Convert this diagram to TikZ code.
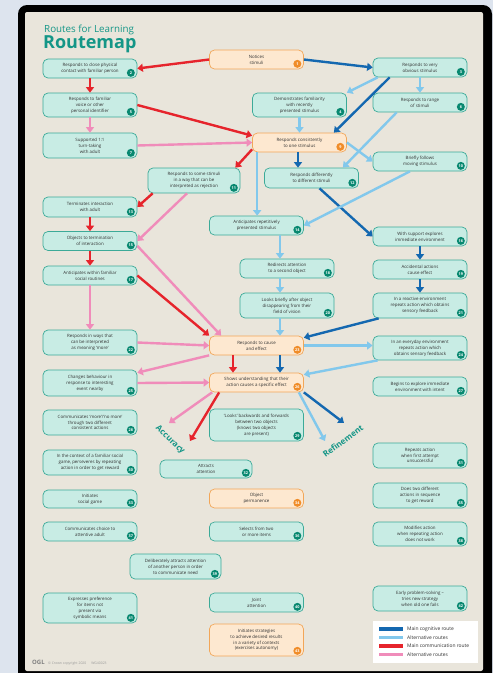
\documentclass[tikz,border=0pt]{standalone}
\usepackage{fontspec}
\setmainfont{Open Sans}
\usetikzlibrary{arrows.meta,positioning,calc}
\definecolor{bgblue}{RGB}{221,228,238}
\definecolor{paper}{RGB}{233,229,219}
\definecolor{rfteal}{RGB}{20,150,135}
\definecolor{boxfill}{RGB}{200,236,228}
\definecolor{boxline}{RGB}{60,170,152}
\definecolor{badgeteal}{RGB}{8,136,112}
\definecolor{ofill}{RGB}{253,232,208}
\definecolor{oline}{RGB}{242,166,88}
\definecolor{obadge}{RGB}{240,140,40}
\definecolor{cogblue}{RGB}{20,104,176}
\definecolor{coglight}{RGB}{130,200,236}
\definecolor{comred}{RGB}{230,36,44}
\definecolor{compink}{RGB}{240,140,186}
\definecolor{txtgrey}{RGB}{50,50,50}

\begin{document}
\begin{tikzpicture}[x=1pt, y=-1pt,
  box/.style={draw=boxline, fill=boxfill, rounded corners=5pt, line width=0.7pt,
    align=center, inner sep=1pt, minimum width=94pt, text=txtgrey,
    font=\fontsize{4.4}{5.9}\selectfont},
  obox/.style={box, draw=oline, fill=ofill},
  badge/.style={circle, fill=badgeteal, text=white, inner sep=0pt, minimum size=8pt,
    font=\bfseries\fontsize{3.8}{4}\selectfont},
  obadge/.style={badge, fill=obadge},
  arr/.style={-{Triangle[length=5.5pt,width=8pt]}, line width=2.4pt},
  cogmain/.style={arr, draw=cogblue},
  cogalt/.style={arr, draw=coglight},
  commain/.style={arr, draw=comred},
  comalt/.style={arr, draw=compink},
  route/.style={text=rfteal, inner sep=0pt, font=\bfseries\fontsize{8.2}{9}\selectfont},
  legtext/.style={anchor=west, inner sep=0pt, text=txtgrey, font=\fontsize{4.9}{5}\selectfont}]

    % =========================================================================
    % FRAME
    % =========================================================================
    \useasboundingbox (0,0) rectangle (493,673);
    \clip (0,0) rectangle (493,673);
    \fill[bgblue] (0,0) rectangle (493,673);
    \fill[black, rounded corners=9pt] (18,5) rectangle (492,690);
    \fill[paper, rounded corners=2pt] (25,12) rectangle (483,671);

    % Title
    \node[anchor=base west, inner sep=0pt, text=rfteal, font=\fontsize{9.8}{10}\selectfont] (ttl) at (44,32) {Routes for Learning};
    \node[anchor=base west, inner sep=0pt, text=rfteal, font=\bfseries\fontsize{18}{18}\selectfont] (ttlbig) at (43,48.5) {Routemap};

    % =========================================================================
    % MILESTONES
    % =========================================================================
    \node[obox, minimum height=19pt] (n1) at (256.5,59.5) {Notices\\stimuli};
    \node[box, minimum height=19pt] (n2) at (90,68.5) {Responds to close physical\\contact with familiar person};
    \node[box, minimum height=19pt] (n3) at (420,67.5) {Responds to very\\obvious stimulus};
    \node[box, minimum height=24pt] (n4) at (299.5,105) {Demonstrates familiarity\\with recently\\presented stimulus};
    \node[box, minimum height=24pt] (n5) at (90,105) {Responds to familiar\\voice or other\\personal identifier};
    \node[box, minimum height=19pt] (n6) at (420,102.5) {Responds to range\\of stimuli};
    \node[box, minimum height=25pt] (n7) at (90,145.5) {Supported 1:1\\turn-taking\\with adult};
    \node[obox, minimum height=19pt] (n9) at (299.5,142.5) {Responds consistently\\to one stimulus};
    \node[box, minimum height=19pt] (n10) at (420,161.5) {Briefly follows\\moving stimulus};
    \node[box, minimum height=25pt, minimum width=92pt] (n11) at (194,180.5) {Responds to some stimuli\\in a way that can be\\interpreted as rejection};
    \node[box, minimum height=20pt] (n12) at (311.5,178) {Responds differently\\to different stimuli};
    \node[box, minimum height=20pt] (n13) at (90,207) {Terminates interaction\\with adult};
    \node[box, minimum height=19pt] (n14) at (256.5,225.5) {Anticipates repetitively\\presented stimulus};
    \node[box, minimum height=19pt] (n15) at (90,241) {Objects to termination\\of interaction};
    \node[box, minimum height=19pt] (n16) at (420,236.5) {With support explores\\immediate environment};
    \node[box, minimum height=19pt] (n17) at (90,275.5) {Anticipates within familiar\\social routines};
    \node[box, minimum height=19pt] (n18) at (287,268.5) {Redirects attention\\to a second object};
    \node[box, minimum height=19pt] (n19) at (420,269.5) {Accidental actions\\cause effect};
    \node[box, minimum height=25pt] (n20) at (287,305.5) {Looks briefly after object\\disappearing from their\\field of vision};
    \node[box, minimum height=25pt] (n21) at (420,305.5) {In a reactive environment\\repeats action which obtains\\sensory feedback};
    \node[box, minimum height=25pt] (n22) at (90,342.5) {Responds in ways that\\can be interpreted\\as meaning `more'};
    \node[obox, minimum height=19pt] (n23) at (256.5,345.5) {Responds to cause\\and effect};
    \node[box, minimum height=24pt] (n24) at (420,348) {In an everyday environment\\repeats action which\\obtains sensory feedback};
    \node[box, minimum height=26pt] (n25) at (90,383) {Changes behaviour in\\response to interesting\\event nearby};
    \node[obox, minimum height=19pt] (n26) at (256.5,382.5) {Shows understanding that their\\action causes a specific effect};
    \node[box, minimum height=19pt] (n27) at (420,386.5) {Begins to explore immediate\\environment with intent};
    \node[box, minimum height=25pt] (n28) at (90,422.5) {Communicates `more'/`no more'\\through two different\\consistent actions};
    \node[box, minimum height=32pt] (n29) at (256.5,425) {`Looks' backwards and forwards\\between two objects\\(knows two objects\\are present)};
    \node[box, minimum height=25pt] (n30) at (90,462.5) {In the context of a familiar social\\game, perseveres by repeating\\action in order to get reward};
    \node[box, minimum height=25pt] (n31) at (420,455.5) {Repeats action\\when first attempt\\unsuccessful};
    \node[box, minimum height=18pt, minimum width=92pt] (n32) at (206,469) {Attracts\\attention};
    \node[box, minimum height=18pt] (n33) at (90,499) {Initiates\\social game};
    \node[obox, minimum height=19pt] (n34) at (256.5,498.5) {Object\\permanence};
    \node[box, minimum height=25pt] (n35) at (420,495.5) {Does two different\\actions in sequence\\to get reward};
    \node[box, minimum height=19pt] (n36) at (256.5,531.5) {Selects from two\\or more items};
    \node[box, minimum height=19pt] (n37) at (90,531.5) {Communicates choice to\\attentive adult};
    \node[box, minimum height=24pt] (n38) at (420,534) {Modifies action\\when repeating action\\does not work};
    \node[box, minimum height=25pt, minimum width=91pt] (n39) at (175.5,566.5) {Deliberately attracts attention\\of another person in order\\to communicate need};
    \node[box, minimum height=19pt] (n40) at (256.5,602.5) {Joint\\attention};
    \node[box, minimum height=30pt] (n41) at (90,608) {Expresses preference\\for items not\\present via\\symbolic means};
    \node[box, minimum height=25pt] (n42) at (420,598.5) {Early problem-solving --\\tries new strategy\\when old one fails};
    \node[obox, minimum height=32pt] (n43) at (256.5,640) {Initiates strategies\\to achieve desired results\\in a variety of contexts\\(exercises autonomy)};

    % Number badges
    \foreach \n in {2,3,4,5,6,7,10,11,12,13,14,15,16,17,18,19,20,21,22,24,25,27,28,29,30,31,32,33,35,36,37,38,39,40,41,42}
        \node[badge] at ([shift={(-6.5pt,5.5pt)}]n\n.south east) {\n};
    \foreach \n in {1,9,23,26,34,43}
        \node[obadge] at ([shift={(-6.5pt,5.5pt)}]n\n.south east) {\n};

    % =========================================================================
    % MAIN COGNITIVE ROUTE
    % =========================================================================
    \coordinate (refdark) at (344,423);
    \draw[cogmain] (n1.east) -- (n3.west);
    \draw[cogmain] ([xshift=17pt]n3.south west) -- ([xshift=-13pt]n9.north east);
    \draw[cogmain] ([xshift=-1.5pt]n9.south) -- ([xshift=-1.5pt]n9.south |- n12.north);
    \draw[cogmain] ([xshift=8pt]n12.south) -- (n16.west);
    \draw[cogmain] (n16.south) -- (n19.north);
    \draw[cogmain] (n19.south) -- (n21.north);
    \draw[cogmain] ([xshift=6pt]n21.south west) -- ([yshift=-2pt]n23.north east);
    \draw[cogmain] ([xshift=23.5pt]n23.south) -- ([xshift=23.5pt]n26.north);
    \draw[cogmain] (n26.south east) -- (refdark);

    % =========================================================================
    % ALTERNATIVE COGNITIVE ROUTES
    % =========================================================================
    \coordinate (reflight) at (325,441);
    \draw[cogalt] ([xshift=5pt]n3.south west) -- (n4.north east);
    \draw[cogalt] (n3.south) -- (n6.north);
    \draw[cogalt] (n4.south) -- (n9.north);
    \draw[cogalt] ([xshift=24pt]n6.south west) -- ([xshift=-16pt]n12.north east);
    \draw[cogalt] (n9.east) -- (n10.west);
    \draw[cogalt] ([xshift=5pt]n9.south west) -- ([xshift=5pt]n9.south west |- n14.north);
    \draw[cogalt] ([xshift=-10pt]n10.south) -- (n14.east);
    \draw[cogalt] ([xshift=-7pt]n18.north |- n14.south) -- ([xshift=-7pt]n18.north);
    \draw[cogalt] ([xshift=-7pt]n18.south) -- ([xshift=-7pt]n20.north);
    \draw[cogalt] ([xshift=-7pt]n20.south) -- ([xshift=-7pt]n20.south |- n23.north);
    \draw[cogalt] (n23.east) -- (n24.west |- n23.east);
    \draw[cogalt] ([xshift=5pt]n24.south west) -- ([yshift=-2pt]n26.north east);
    \draw[cogalt] ([xshift=-5pt]n26.south east) -- (reflight);

    % =========================================================================
    % MAIN COMMUNICATION ROUTE
    % =========================================================================
    \coordinate (accred) at (190,441);
    \draw[commain] (n1.west) -- (n2.east);
    \draw[commain] (n2.south) -- (n5.north);
    \draw[commain] (n5.east) -- ([yshift=-3pt]n9.north west);
    \draw[commain] ([yshift=3pt]n9.south west) -- ([xshift=-5pt]n11.north east);
    \draw[commain] ([xshift=5pt]n11.south west) -- (n13.east);
    \draw[commain] (n13.south) -- (n15.north);
    \draw[commain] (n15.south) -- (n17.north);
    \draw[commain] (n17.east) -- (n23.north west);
    \draw[commain] ([xshift=-23.5pt]n23.south) -- ([xshift=-23.5pt]n26.north);
    \draw[commain] ([xshift=10pt]n26.south west) -- (accred);

    % =========================================================================
    % ALTERNATIVE COMMUNICATION ROUTES
    % =========================================================================
    \coordinate (accpink) at (169,423);
    \draw[comalt] (n5.south) -- (n7.north);
    \draw[comalt] (n7.east) -- (n9.west);
    \draw[comalt] ([xshift=-7pt]n11.south) -- (n15.east);
    \draw[comalt] ([yshift=5pt]n15.south east) -- ([xshift=12pt]n23.north west);
    \draw[comalt] (n17.south) -- (n22.north);
    \draw[comalt] (n22.east) -- (n23.west);
    \draw[comalt] (n23.south west) -- ([yshift=-3pt]n25.north east);
    \draw[comalt] (n25.east) -- (n26.west);
    \draw[comalt] ([xshift=3pt]n26.south west) -- (accpink);

    % Route labels
    \node[route, rotate=-44] (acc) at (170,440) {Accuracy};
    \node[route, rotate=37] (refi) at (343,441) {Refinement};

    % =========================================================================
    % LEGEND
    % =========================================================================
    \fill[white] (373,621) rectangle (478,663);
    \foreach \c/\t [count=\i] in {cogblue/Main cognitive route, coglight/Alternative routes,
                                  comred/Main communication route, compink/Alternative routes} {
        \fill[\c] (379,619+8.4*\i) rectangle +(24,3.4);
        \node[legtext] (leg\i) at (407,620.7+8.4*\i) {\t};
    }

    % Footer
    \node[anchor=base west, inner sep=0pt, text=gray, font=\bfseries\fontsize{6}{6}\selectfont] (ogl) at (32,664) {OGL};
    \node[anchor=base west, inner sep=0pt, text=gray!80, font=\fontsize{3.4}{4}\selectfont, right=3pt of ogl.base east] (crown) {\textcopyright{} Crown copyright 2020\hspace{5pt}WG40023};
\end{tikzpicture}
\end{document}
